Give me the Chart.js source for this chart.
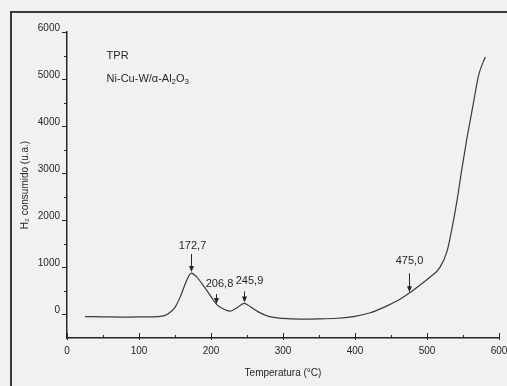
<!DOCTYPE html>
<html>
<head>
<meta charset="utf-8">
<script src="https://cdn.jsdelivr.net/npm/chart.js@4.4.0/dist/chart.umd.min.js"></script>
<style>
  html, body { margin: 0; padding: 0; background: #f1f2ef; }
  #wrap { width: 507px; height: 386px; }
</style>
</head>
<body>
<div id="wrap"><canvas id="tprChart"></canvas></div>
<script>
// TPR profile of Ni-Cu-W/alpha-Al2O3
const temperatures = [25, 50, 80, 110, 130, 140, 150, 158, 165, 172.7, 180, 190, 200, 208, 218, 226, 235, 245.9,
  255, 265, 280, 300, 325, 350, 375, 400, 420, 440, 460, 476, 490, 504, 518, 528, 535, 542, 548, 555, 564, 572, 581];
const h2Signal = [-45, -50, -55, -50, -40, 10, 150, 400, 680, 880, 800, 600, 380, 210, 110, 70, 130, 235,
  160, 60, -40, -85, -100, -95, -80, -40, 30, 150, 300, 460, 620, 790, 1000, 1350, 1850, 2450, 3050, 3700, 4450, 5100, 5470];

const xTicks = [0, 100, 200, 300, 400, 500, 600];
const yTicks = [0, 1000, 2000, 3000, 4000, 5000, 6000];

// marked peaks
const peakTemps = [172.7, 206.8, 245.9, 475.0];
const peakSignals = [880, 200, 235, 450];
const peakLabels = ['172,7', '206,8', '245,9', '475,0'];

const FONT = '"Liberation Sans", Arial, "DejaVu Sans", sans-serif';
const INK = '#262626';

// frame of the scanned figure + background
const pageFrame = {
  id: 'pageFrame',
  beforeDraw(chart) {
    const { ctx, width, height } = chart;
    ctx.save();
    ctx.fillStyle = '#f1f2ef';
    ctx.fillRect(0, 0, width, height);
    ctx.strokeStyle = '#3a3a3a';
    ctx.lineWidth = 2;
    ctx.strokeRect(11, 12, width + 10, height + 10);
    ctx.restore();
  }
};

// major + minor ticks (y outward, x inward)
const axisTicks = {
  id: 'axisTicks',
  afterDraw(chart) {
    const { ctx, chartArea: a, scales: { x, y } } = chart;
    ctx.save();
    ctx.strokeStyle = INK;
    ctx.lineWidth = 1;
    ctx.beginPath();
    for (let v = 0; v <= 600; v += 50) {
      const px = Math.round(x.getPixelForValue(v)) + 0.5;
      const major = v % 100 === 0;
      ctx.moveTo(px, a.bottom + (major ? 2 : 0));
      ctx.lineTo(px, a.bottom - (major ? 5 : 3));
    }
    for (let v = 0; v <= 6000; v += 500) {
      const py = Math.round(y.getPixelForValue(v)) + 0.5;
      const major = v % 1000 === 0;
      ctx.moveTo(a.left, py);
      ctx.lineTo(a.left - (major ? 5 : 3), py);
    }
    ctx.stroke();
    ctx.restore();
  }
};

// arrows + labels over the peaks, sample name
const peakMarks = {
  id: 'peakMarks',
  afterDatasetsDraw(chart) {
    const { ctx, scales: { x, y } } = chart;
    const arrowLen = [18, 10, 11, 19];
    const gap = [8, 10, 10, 12];
    const dx = [1, 3, 5, 0];
    ctx.save();
    ctx.fillStyle = INK;
    ctx.strokeStyle = INK;
    ctx.lineWidth = 1;
    ctx.font = '11px ' + FONT;
    ctx.textAlign = 'center';
    ctx.textBaseline = 'middle';
    peakTemps.forEach((t, i) => {
      const px = Math.round(x.getPixelForValue(t)) + 0.5;
      const tip = y.getPixelForValue(peakSignals[i]) - 1;
      ctx.beginPath();
      ctx.moveTo(px, tip - arrowLen[i]);
      ctx.lineTo(px, tip - 4);
      ctx.stroke();
      ctx.beginPath();
      ctx.moveTo(px - 2.5, tip - 6);
      ctx.lineTo(px, tip);
      ctx.lineTo(px + 2.5, tip - 6);
      ctx.closePath();
      ctx.fill();
      ctx.fillText(peakLabels[i], px + dx[i], tip - arrowLen[i] - gap[i]);
    });

    // "TPR" and sample composition with subscripts
    const tx = x.getPixelForValue(55);
    ctx.textAlign = 'left';
    ctx.font = '11px ' + FONT;
    ctx.fillText('TPR', tx, y.getPixelForValue(5500));
    let cx = tx;
    const cy = y.getPixelForValue(5000);
    const parts = [['Ni-Cu-W/α-Al', false], ['2', true], ['O', false], ['3', true]];
    parts.forEach(([s, sub]) => {
      ctx.font = (sub ? '8px ' : '11px ') + FONT;
      ctx.fillText(s, cx, cy + (sub ? 3 : 0));
      cx += ctx.measureText(s).width;
    });
    ctx.restore();
  }
};

const ctx = document.getElementById('tprChart').getContext('2d');
new Chart(ctx, {
  type: 'line',
  data: {
    datasets: [{
      data: temperatures.map((t, i) => ({ x: t, y: h2Signal[i] })),
      borderColor: '#3a3a3a',
      borderWidth: 1.2,
      pointRadius: 0,
      fill: false,
      cubicInterpolationMode: 'monotone'
    }]
  },
  options: {
    responsive: true,
    maintainAspectRatio: false,
    animation: false,
    layout: { padding: { top: 32, right: 8, left: 0, bottom: 0 } },
    plugins: { legend: { display: false }, tooltip: { enabled: false } },
    scales: {
      x: {
        type: 'linear',
        min: 0,
        max: 600,
        afterBuildTicks: (s) => { s.ticks = xTicks.map(v => ({ value: v })); },
        afterFit: (s) => { s.height = 48; s.paddingLeft = 0; s.paddingRight = 0; },
        grid: { display: false, drawTicks: false },
        border: { display: true, color: INK, width: 1.5 },
        ticks: { color: INK, font: { family: FONT, size: 10 }, padding: 7, maxRotation: 0, callback: (v) => String(v) },
        title: {
          display: true,
          text: 'Temperatura (°C)',
          color: INK,
          font: { family: FONT, size: 10 },
          padding: { top: 0, bottom: 7 }
        }
      },
      y: {
        min: -500,
        max: 6000,
        afterBuildTicks: (s) => { s.ticks = yTicks.map(v => ({ value: v })); },
        afterFit: (s) => { s.width = 67; s.paddingTop = 0; s.paddingBottom = 0; },
        grid: { display: false, drawTicks: false },
        border: { display: true, color: INK, width: 1.5 },
        ticks: { color: INK, font: { family: FONT, size: 10 }, padding: 7, labelOffset: -4, callback: (v) => String(v) },
        title: {
          display: true,
          text: 'H₂ consumido (u.a.)',
          color: INK,
          font: { family: FONT, size: 10 },
          padding: { top: 19, bottom: 0 }
        }
      }
    }
  },
  plugins: [pageFrame, axisTicks, peakMarks]
});
</script>
</body>
</html>
